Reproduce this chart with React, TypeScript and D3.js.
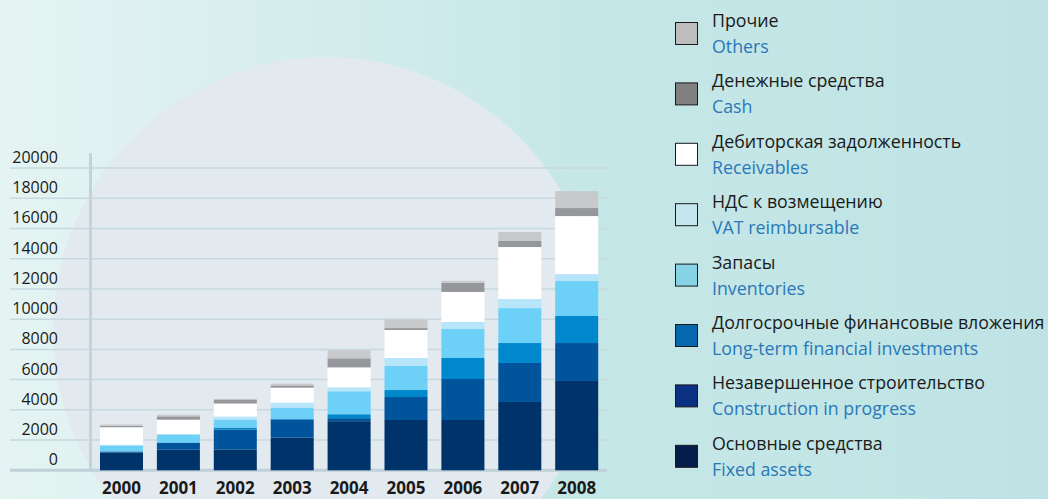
import React from "react";
import * as d3 from "d3";

const years = ["2000", "2001", "2002", "2003", "2004", "2005", "2006", "2007", "2008"];
const fixedAssets = [1180, 1360, 1380, 2160, 3250, 3330, 3330, 4520, 5910];
const construction = [70, 450, 1320, 1190, 200, 1520, 2710, 2580, 2510];
const longTermFin = [0, 30, 130, 70, 260, 460, 1390, 1320, 1790];
const inventories = [390, 520, 530, 730, 1520, 1590, 1920, 2310, 2310];
const vat = [50, 40, 200, 330, 260, 530, 460, 600, 460];
const receivables = [1160, 950, 860, 990, 1320, 1850, 1990, 3440, 3840];
const cash = [90, 220, 260, 140, 600, 130, 600, 400, 530];
const others = [90, 110, 0, 120, 530, 570, 130, 600, 1120];
const yTicks = [0, 2000, 4000, 6000, 8000, 10000, 12000, 14000, 16000, 18000, 20000];

const seriesKeys = ["fixed", "construction", "ltfin", "inventories", "vat", "receivables", "cash", "others"];
const seriesValues = [fixedAssets, construction, longTermFin, inventories, vat, receivables, cash, others];
const barColors = ["#00336a", "#00549b", "#0088cc", "#6dd0f7", "#b7e5f9", "#ffffff", "#96979a", "#c8c9cb"];
const swatchColors = ["#061c4a", "#0b2f82", "#0568ad", "#86d3e6", "#c5e5ef", "#ffffff", "#808080", "#bdbdbd"];
const labelsRu = [
  "Основные средства",
  "Незавершенное строительство",
  "Долгосрочные финансовые вложения",
  "Запасы",
  "НДС к возмещению",
  "Дебиторская задолженность",
  "Денежные средства",
  "Прочие",
];
const labelsEn = [
  "Fixed assets",
  "Construction in progress",
  "Long-term financial investments",
  "Inventories",
  "VAT reimbursable",
  "Receivables",
  "Cash",
  "Others",
];

const W = 1048;
const H = 499;
const FONT = "'Open Sans', 'Noto Sans', sans-serif";

export default function App() {
  const table = years.map((y, i) => {
    const row: any = { year: y };
    seriesKeys.forEach((k, j) => (row[k] = seriesValues[j][i]));
    return row;
  });
  const stacked = d3.stack().keys(seriesKeys)(table);

  const x = d3.scaleBand().domain(years).range([86.1, 612.1]).padding(0.244);
  const y = d3.scaleLinear().domain([0, 20000]).range([470.3, 168]);

  const legendOrder = [7, 6, 5, 4, 3, 2, 1, 0];

  return (
    <div style={{ position: "fixed", left: 0, top: 0 }}>
      <svg width={W} height={H} style={{ display: "block" }}>
        <defs>
          <linearGradient id="bg" x1="0" y1="0" x2="1" y2="0">
            <stop offset="0" stopColor="#e5f4f3" />
            <stop offset="0.55" stopColor="#c6e7e7" />
            <stop offset="1" stopColor="#bfe3e5" />
          </linearGradient>
        </defs>
        <rect x={0} y={0} width={W} height={H} fill="url(#bg)" />
        <circle cx={326} cy={330} r={273} fill="#e2eaf0" />

        {/* gridlines */}
        {yTicks.map((t) => (
          <line
            key={"g" + t}
            x1={10}
            x2={607}
            y1={y(t)}
            y2={y(t)}
            stroke={t === 0 ? "#bfd0d8" : "#c7d9de"}
            strokeWidth={t === 0 ? 3 : 1.5}
          />
        ))}
        {/* vertical axis */}
        <line x1={90.5} x2={90.5} y1={153} y2={471.5} stroke="#c2d3da" strokeWidth={3} />

        {/* y tick labels */}
        {yTicks.map((t) => (
          <text
            key={"t" + t}
            x={58}
            y={y(t) - 5}
            textAnchor="end"
            fontFamily={FONT}
            fontSize={16}
            fill="#1a1a1a"
          >
            {t}
          </text>
        ))}

        {/* bars */}
        {stacked.map((s, j) => (
          <g key={s.key} fill={barColors[j]}>
            {s.map((d, i) => (
              <rect
                key={i}
                x={x(years[i])}
                width={x.bandwidth()}
                y={y(d[1])}
                height={Math.max(0, y(d[0]) - y(d[1]))}
              />
            ))}
          </g>
        ))}

        {/* x labels */}
        {years.map((yr) => (
          <text
            key={"x" + yr}
            x={(x(yr) as number) + x.bandwidth() / 2}
            y={494}
            textAnchor="middle"
            fontFamily={FONT}
            fontWeight={700}
            fontSize={17}
            fill="#1a1a1a"
          >
            {yr}
          </text>
        ))}

        {/* legend */}
        {legendOrder.map((j, k) => {
          const top = 22 + k * 60.4;
          return (
            <g key={"l" + j}>
              <rect
                x={675.5}
                y={top + 0.5}
                width={22}
                height={22}
                fill={swatchColors[j]}
                stroke="#1a1a1a"
                strokeWidth={1}
              />
              <text x={712} y={top + 5} fontFamily={FONT} fontSize={17.8} fill="#1a1a1a">
                {labelsRu[j]}
              </text>
              <text x={712} y={top + 31} fontFamily={FONT} fontSize={17.8} fill="#2a78b8">
                {labelsEn[j]}
              </text>
            </g>
          );
        })}
      </svg>
    </div>
  );
}
